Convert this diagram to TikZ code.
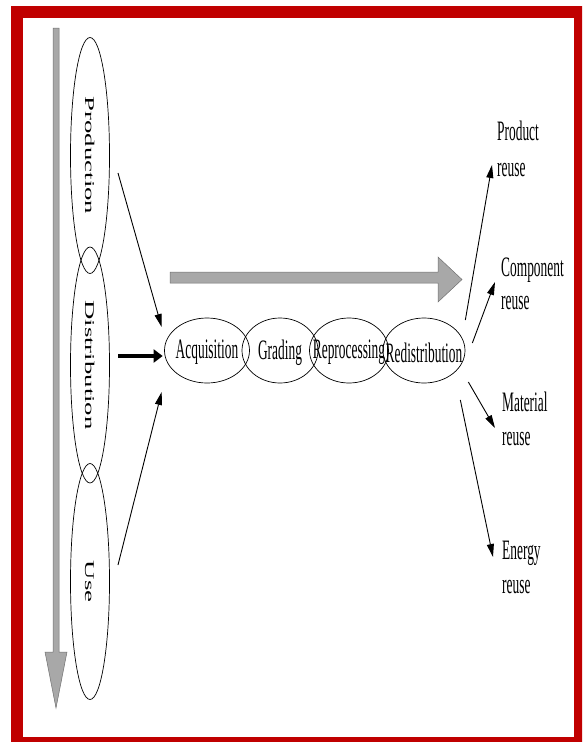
\documentclass[tikz,border=0pt]{standalone}
\usepackage{fontspec}
\setmainfont{Liberation Serif}
\usetikzlibrary{shapes.geometric,arrows.meta}
\definecolor{framered}{HTML}{C00000}
\definecolor{flowgrey}{HTML}{A8A8A8}
\definecolor{flowedge}{HTML}{707070}
\newcommand{\tallx}[1]{\scalebox{1}[2.1]{#1}}
\newcommand{\longx}[1]{\scalebox{2}[1]{#1}}
\begin{document}
\begin{tikzpicture}[x=1pt,y=-1pt,
  font=\fontsize{13.4}{16}\selectfont,
  lifephase/.style={ellipse,draw,line width=0.7pt,inner sep=0pt,
    minimum width=236pt,minimum height=39pt,rotate=-90},
  recovery/.style={ellipse,draw,line width=0.7pt,inner sep=0pt,minimum height=65pt,
    label={[inner sep=0pt,yshift=-2pt]center:\tallx{#1}}},
  feed/.style={-{Triangle[length=13pt,width=7pt]},line width=0.9pt},
  mainfeed/.style={-{Triangle[length=9pt,width=13pt]},line width=3.5pt},
  outlabel/.style={anchor=north west,inner sep=0pt,align=left,yscale=2.1},
  band/.style={fill=flowgrey,draw=flowedge,line width=0.5pt}
]
\useasboundingbox (0,0) rectangle (582,742);
\begin{scope}
  \clip (0,0) rectangle (582,742);
  \draw[framered,line width=12pt] (17,12) rectangle (580,743);
\end{scope}

% time axis along the product life cycle
\draw[band] (53,28) -- (59,28) -- (59,652) -- (67,652) -- (56,708)
  -- (45,652) -- (53,652) -- cycle;

% life cycle phases
\node[lifephase] (prod) at (90,155.5) {\longx{Production}};
\node[lifephase] (dist) at (90,365) {\longx{Distribution}};
\node[lifephase] (use)  at (90,581.5) {\longx{Use}};

% reverse logistics chain
\draw[band] (170,272) -- (438,272) -- (438,257) -- (462,279.5)
  -- (438,302) -- (438,283) -- (170,283) -- cycle;
\node[recovery=Acquisition,minimum width=85pt] (acq)       at (207,350.5) {};
\node[recovery=Grading,minimum width=76pt] (grad)          at (280,350.5) {};
\node[recovery=Reprocessing,minimum width=79pt] (repro)    at (349,350.5) {};
\node[recovery=Redistribution,minimum width=82pt] (redist) at (424,350.5) {};

% returns flowing into acquisition
\draw[feed] ([xshift=28pt,yshift=-17.5pt]prod.center) -- ([xshift=-2.5pt,yshift=23.5pt]acq.west);
\draw[mainfeed] ([xshift=28pt,yshift=9pt]dist.center) -- ([xshift=-1.5pt,yshift=-5.5pt]acq.west);
\draw[feed] ([xshift=28pt,yshift=16.5pt]use.center) -- ([xshift=-2.5pt,yshift=-41.5pt]acq.west);

% recovery options
\node[outlabel] (lprod) at (497,121) {Product\\[1pt]reuse};
\node[outlabel] (lcomp) at (501,257) {Component\\reuse};
\node[outlabel] (lmat)  at (502,392) {Material\\reuse};
\node[outlabel] (lene)  at (502,541) {Energy\\reuse};

\coordinate (toProd) at (492,165);
\coordinate (toComp) at (495,282);
\coordinate (toMat)  at (495,428);
\coordinate (toEne)  at (493,557);

\draw[feed] ([yshift=30.5pt]redist.east) -- (toProd);
\draw[feed] ([xshift=7pt,yshift=7.5pt]redist.east) -- (toComp);
\draw[feed] ([xshift=3pt,yshift=-31.5pt]redist.east) -- (toMat);
\draw[feed] ([xshift=-5pt,yshift=-49.5pt]redist.east) -- (toEne);
\end{tikzpicture}
\end{document}
